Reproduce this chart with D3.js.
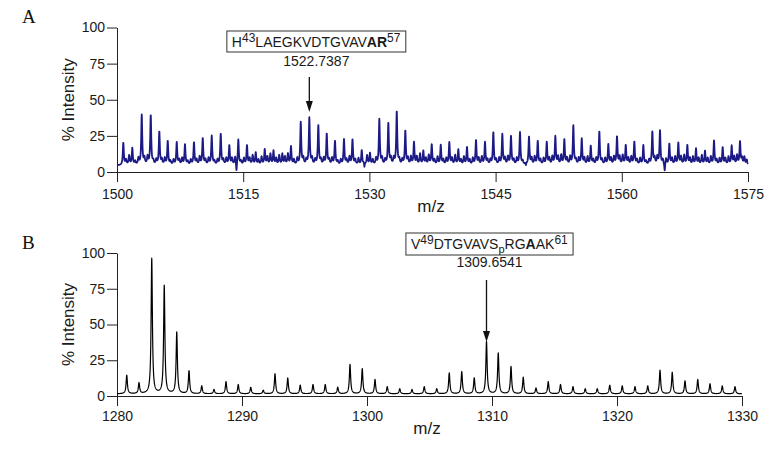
<!DOCTYPE html>
<html>
<head>
<meta charset="utf-8">
<script src="https://cdn.jsdelivr.net/npm/d3@7"></script>
<style>
  body { margin: 0; background: #fff; }
  svg { display: block; }
  .axis path, .axis line { stroke: #222; }
  .axis text { font-family: "Liberation Sans", Arial, sans-serif; font-size: 14px; fill: #1a1a1a; }
  .title { font-family: "Liberation Sans", Arial, sans-serif; font-size: 17px; fill: #1a1a1a; }
  .panel { font-family: "Liberation Serif", "Times New Roman", serif; font-size: 19px; fill: #111; }
  .note { font-family: "Liberation Sans", Arial, sans-serif; font-size: 14px; fill: #1a1a1a; }
</style>
</head>
<body>
<div id="chart"></div>
<script>
"use strict";

// ---- panel A: m/z 1500-1575, peak centres and % intensity
var peaksA = [
  [1500.75, 20], [1501.82, 16], [1502.94, 39], [1504.01, 39], [1505.03, 27.5],
  [1506.03, 21], [1507.10, 20], [1508.08, 18.5], [1509.15, 20], [1510.19, 23],
  [1511.26, 24.5], [1512.33, 26], [1513.35, 18], [1514.42, 22], [1515.45, 18],
  [1516.49, 13], [1517.56, 15], [1518.60, 14], [1519.65, 12], [1520.68, 17],
  [1521.84, 34], [1522.86, 37], [1523.93, 32], [1524.93, 26], [1525.91, 21],
  [1526.98, 22], [1527.99, 22], [1529.09, 14.5], [1530.07, 12.5], [1531.18, 36],
  [1532.25, 33.5], [1533.25, 41.5], [1534.27, 28], [1535.30, 20], [1536.41, 14],
  [1537.41, 18.5], [1538.48, 18], [1539.50, 20], [1540.57, 15], [1541.60, 16.5],
  [1542.67, 21.5], [1543.74, 20], [1544.73, 27], [1545.80, 25.5], [1546.83, 24.5],
  [1547.90, 27], [1548.97, 24], [1550.01, 21], [1551.08, 20], [1552.10, 24],
  [1553.17, 22], [1554.24, 31.5], [1555.24, 22.5], [1556.31, 17.5], [1557.33, 27.5],
  [1558.40, 18.5], [1559.43, 24], [1560.47, 18], [1561.49, 20.5], [1562.56, 18],
  [1563.63, 27.5], [1564.54, 28], [1565.65, 19], [1566.72, 19.5], [1567.79, 18],
  [1568.82, 15.5], [1569.89, 14], [1570.96, 21], [1571.99, 16.5], [1573.06, 17.5],
  [1574.05, 20.5], [1574.85, 8]
];
// small bumps in each gap between neighbouring peaks (early and late in the gap)
var minorEarlyA = [8, 7, 9, 7, 8, 7, 8, 7, 8, 8, 7, 8, 9, 7, 9, 8, 10, 9, 10, 8,
  9, 9, 8, 8, 7, 8, 8, 9, 8, 9, 9, 8, 9, 10, 9, 8, 8, 9, 8, 8,
  9, 8, 8, 9, 8, 7, 9, 8, 9, 10, 9, 8, 9, 8, 8, 9, 10, 9, 8, 7,
  9, 8, 9, 10, 9, 9, 9, 8, 9, 10, 9];
var minorLateA = [11, 9, 10, 8, 9, 8, 9, 8, 10, 9, 8, 9, 10, 9, 11, 10, 12, 11, 12, 9,
  8, 8, 9, 9, 8, 10, 9, 11, 9, 8, 9, 8, 10, 12, 11, 10, 9, 11, 10, 9,
  10, 8, 9, 10, 9, 8, 10, 9, 10, 11, 10, 9, 10, 9, 9, 10, 11, 10, 9, 8,
  10, 9, 10, 11, 10, 11, 10, 9, 10, 11, 10];
// places where the trace drops to the axis
var dipsA = [[1514.2, -2], [1529.4, -2], [1548.6, 0], [1565.1, -1]];
var ticksA = [1500, 1515, 1530, 1545, 1560, 1575];

// ---- panel B: m/z 1280-1330
var peaksB = [
  [1280.78, 14.5], [1281.76, 9], [1282.78, 96], [1283.78, 77], [1284.78, 44.5],
  [1285.76, 17.5], [1286.78, 7], [1287.76, 4.5], [1288.72, 10], [1289.70, 8],
  [1290.70, 6], [1291.70, 4], [1292.64, 15.5], [1293.66, 12.5], [1294.66, 7.5],
  [1295.68, 8], [1296.66, 8], [1297.66, 6], [1298.64, 22], [1299.62, 19],
  [1300.64, 11.5], [1301.62, 6.5], [1302.62, 5], [1303.60, 4.5], [1304.58, 6.5],
  [1305.58, 5], [1306.58, 16], [1307.58, 17], [1308.58, 12.5], [1309.56, 38],
  [1310.50, 30], [1311.52, 20.5], [1312.50, 13], [1313.52, 5.5], [1314.50, 10],
  [1315.48, 8], [1316.48, 6.5], [1317.46, 5], [1318.42, 5], [1319.42, 7.5],
  [1320.42, 7], [1321.44, 6.5], [1322.46, 7], [1323.44, 18], [1324.42, 16.5],
  [1325.44, 10.5], [1326.46, 11.5], [1327.44, 8.5], [1328.42, 7], [1329.44, 6.5]
];
var ticksB = [1280, 1290, 1300, 1310, 1320, 1330];
var intensityTicks = [0, 25, 50, 75, 100];

var width = 777, height = 452;
var svg = d3.select("#chart").append("svg")
  .attr("width", width)
  .attr("height", height);

// sum of lorentzian lines on a flat baseline; heights are apex values
function buildTrace(opts) {
  var bumps = [];
  var peaks = opts.peaks;
  peaks.forEach(function (p) { bumps.push({ c: p[0], h: p[1] - opts.base, w: opts.w }); });
  (opts.minor || []).forEach(function (m) {
    m.values.forEach(function (h, i) {
      if (i + 1 >= peaks.length) return;
      var c = peaks[i][0] + (peaks[i + 1][0] - peaks[i][0]) * m.at;
      bumps.push({ c: c, h: h - opts.base, w: opts.minorW });
    });
  });
  (opts.dips || []).forEach(function (d) {
    bumps.push({ c: d[0], h: d[1] - opts.base, w: 0.05 });
  });
  var pts = [];
  for (var mz = opts.domain[0]; mz <= opts.domain[1] + 1e-9; mz += opts.step) {
    var v = opts.base;
    bumps.forEach(function (b) {
      var dx = mz - b.c;
      v += b.h * b.w * b.w / (dx * dx + b.w * b.w);
    });
    pts.push([mz, v]);
  }
  return pts;
}

function drawPanel(p) {
  var g = svg.append("g");
  var x = d3.scaleLinear().domain(p.domain).range(p.xRange);
  var y = d3.scaleLinear().domain([0, 100]).range(p.yRange);

  g.append("g")
    .attr("class", "axis")
    .attr("transform", "translate(0," + y(0) + ")")
    .call(d3.axisBottom(x).tickValues(p.xTicks).tickSize(10).tickSizeOuter(0)
      .tickPadding(p.xPad).tickFormat(d3.format("d")));

  g.append("g")
    .attr("class", "axis")
    .attr("transform", "translate(" + p.xRange[0] + ",0)")
    .call(d3.axisLeft(y).tickValues(intensityTicks).tickSize(10).tickSizeOuter(0)
      .tickPadding(2));

  g.append("path")
    .datum(p.trace)
    .attr("fill", "none")
    .attr("stroke", p.color)
    .attr("stroke-width", p.lw)
    .attr("stroke-linejoin", "round")
    .attr("d", d3.line().x(function (d) { return x(d[0]); }).y(function (d) { return y(d[1]); }));

  // titles
  g.append("text").attr("class", "title")
    .attr("transform", "translate(74," + (p.yRange[0] + p.yRange[1]) / 2 + ") rotate(-90)")
    .attr("text-anchor", "middle")
    .text("% Intensity");
  g.append("text").attr("class", "title")
    .attr("x", p.mzLabel[0]).attr("y", p.mzLabel[1])
    .attr("text-anchor", "middle")
    .text("m/z");
  g.append("text").attr("class", "panel")
    .attr("x", 22).attr("y", p.letterY)
    .text(p.letter);

  // annotated peak: arrow + mass + boxed sequence
  var target = p.peaks.reduce(function (a, b) {
    return Math.abs(b[0] - p.mark) < Math.abs(a[0] - p.mark) ? b : a;
  });
  var ax = x(target[0]);
  g.append("line")
    .attr("x1", ax).attr("x2", ax)
    .attr("y1", p.arrow[0]).attr("y2", p.arrow[1] - 8)
    .attr("stroke", "#111").attr("stroke-width", 1.3);
  g.append("path")
    .attr("d", "M" + (ax - 3.5) + "," + (p.arrow[1] - 11) + "L" + (ax + 3.5) + "," + (p.arrow[1] - 11) +
      "L" + ax + "," + p.arrow[1] + "Z")
    .attr("fill", "#111");

  var cx = ax + p.labelShift;
  g.append("text").attr("class", "note")
    .attr("x", cx).attr("y", p.massY)
    .attr("text-anchor", "middle")
    .text(p.mark.toFixed(4));

  var seq = g.append("text").attr("class", "note")
    .attr("x", 0).attr("y", p.seqY);
  p.seq.forEach(function (s) {
    var t = seq.append("tspan").text(s.t);
    if (s.sup) t.attr("dy", -5).style("font-size", "12px");
    if (s.sub) t.attr("dy", 4).style("font-size", "11px");
    if (s.back) t.attr("dy", s.back);
    if (s.bold) t.style("font-weight", "bold");
  });
  var bb = seq.node().getBBox();
  seq.attr("x", cx - bb.width / 2);
  g.insert("rect", "text.note")
    .attr("x", cx - bb.width / 2 - 5).attr("y", p.box[0])
    .attr("width", bb.width + 10).attr("height", p.box[1] - p.box[0])
    .attr("fill", "#fff").attr("stroke", "#333").attr("stroke-width", 1);
}

drawPanel({
  letter: "A", letterY: 23,
  domain: [1500, 1575], xRange: [117, 748], yRange: [172, 27.5], xTicks: ticksA, xPad: 7,
  peaks: peaksA, color: "#1c1a85", lw: 1.8,
  trace: buildTrace({
    peaks: peaksA, base: 4.5, w: 0.07, minorW: 0.08,
    minor: [{ at: 0.3, values: minorEarlyA }, { at: 0.65, values: minorLateA }],
    dips: dipsA, domain: [1500, 1575], step: 0.02
  }),
  mzLabel: [431, 212],
  mark: 1522.7387, arrow: [77, 112], labelShift: 7, massY: 66,
  seq: [{ t: "H" }, { t: "43", sup: true }, { t: "LAEGKVDTGVAV", back: 5 }, { t: "A", bold: true },
    { t: "R", bold: true }, { t: "57", sup: true }],
  seqY: 47, box: [31, 52]
});

drawPanel({
  letter: "B", letterY: 249,
  domain: [1280, 1330], xRange: [117, 742], yRange: [396, 253], xTicks: ticksB, xPad: 5,
  peaks: peaksB, color: "#000", lw: 1.2,
  trace: buildTrace({ peaks: peaksB, base: 1.5, w: 0.06, domain: [1280, 1330], step: 0.01 }),
  mzLabel: [427, 434],
  mark: 1309.6541, arrow: [280, 342], labelShift: 3, massY: 267,
  seq: [{ t: "V" }, { t: "49", sup: true }, { t: "DTGVAVS", back: 5 }, { t: "p", sub: true },
    { t: "RG", back: -4 }, { t: "A", bold: true }, { t: "AK" }, { t: "61", sup: true }],
  seqY: 249, box: [233, 255]
});
</script>
</body>
</html>
